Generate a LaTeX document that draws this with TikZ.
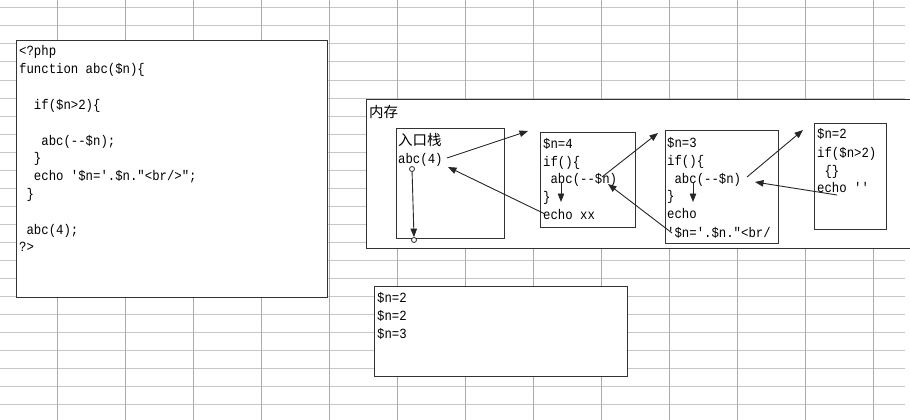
\documentclass[tikz,border=0pt]{standalone}
\usepackage{fontspec}
\setmonofont{Liberation Mono}[FakeStretch=0.88]
\newfontfamily\cjk{Noto Sans CJK SC}
\usetikzlibrary{arrows.meta}
\begin{document}
\begin{tikzpicture}[x=1pt,y=-1pt,
  box/.style={draw=black!80, line width=1.3pt, fill=white, anchor=north west, inner sep=0pt},
  code/.style={anchor=base west, inner sep=0pt, font=\ttfamily\fontsize{14}{16}\selectfont, text=black},
  cn/.style={anchor=base west, inner sep=0pt, font=\cjk\fontsize{14.5}{16}\selectfont, text=black},
  link/.style={draw=black!85, line width=0.9pt, -{Triangle[length=8.5pt,width=6.5pt]}},
  hgrid/.style={draw=black!22, line width=1pt},
  vgrid/.style={draw=black!33, line width=1pt},
  dot/.style={circle, draw=black!85, fill=white, line width=0.8pt, inner sep=0pt, minimum size=5pt}]
\clip (0,0) rectangle (910,420);
\fill[white] (0,0) rectangle (910,420);
% spreadsheet grid
\foreach \gy in {8,26,...,404} \draw[hgrid] (0,\gy) -- (905,\gy);
\foreach \gx in {57,125,...,873} \draw[vgrid] (\gx,0) -- (\gx,420);

% code box
\node[box, minimum width=311pt, minimum height=257pt] (codebox) at (16,40) {};
\node[code] (c1) at (19,56) {<?php};
\node[code] (c2) at (19,73.8) {function abc(\$n)\{};
\node[code] (c3) at (19,109.4) {\ \ if(\$n>2)\{};
\node[code] (c4) at (19,145) {\ \ \ abc(--\$n);};
\node[code] (c5) at (19,162.8) {\ \ \}};
\node[code] (c6) at (19,180.6) {\ \ echo '\$n='.\$n."<br/>";};
\node[code] (c7) at (19,198.4) {\ \}};
\node[code] (c8) at (19,234) {\ abc(4);};
\node[code] (c9) at (19,251.8) {?>};

% memory box
\node[box, minimum width=560pt, minimum height=149pt] (mem) at (366,99) {};
\node[cn] (memlabel) at (369,117) {内存};

% entry stack
\node[box, minimum width=108pt, minimum height=110pt] (stack) at (396,128) {};
\node[cn] (stacklabel) at (398,145) {入口栈};
\node[code] (s1) at (398,163) {abc(4)};
\node[dot] (sd1) at (412,169) {};
\node[dot] (sd2) at (414,240) {};
\draw[link] (sd1) -- (sd2.north);

% frame n=4
\node[box, minimum width=95pt, minimum height=95pt] (f4) at (540,132) {};
\node[code] (f4a) at (543,148) {\$n=4};
\node[code] (f4b) at (543,166) {if()\{};
\node[code] (f4c) at (543,183.5) {\ abc(--\$n)};
\node[code] (f4d) at (543,201) {\}};
\node[code] (f4e) at (543,219) {echo xx};

% frame n=3
\node[box, minimum width=113pt, minimum height=113pt] (f3) at (665,130) {};
\node[code] (f3a) at (667,147) {\$n=3};
\node[code] (f3b) at (667,165) {if()\{};
\node[code] (f3c) at (667,183) {\ abc(--\$n)};
\node[code] (f3d) at (667,200) {\}};
\node[code] (f3e) at (667,218) {echo};
\node[code] (f3f) at (667,237) {'\$n='.\$n."<br/};

% frame n=2
\node[box, minimum width=72pt, minimum height=106pt] (f2) at (814,123) {};
\node[code] (f2a) at (817,138) {\$n=2};
\node[code] (f2b) at (817,157) {if(\$n>2)};
\node[code] (f2c) at (817,175) {\ \{\}};
\node[code] (f2d) at (817,192) {echo ''};

% output box
\node[box, minimum width=253pt, minimum height=90pt] (out) at (374,286) {};
\node[code] (o1) at (377,302) {\$n=2};
\node[code] (o2) at (377,320) {\$n=2};
\node[code] (o3) at (377,338) {\$n=3};

% connector end points
\coordinate (p1s) at (447,158);
\coordinate (p1e) at (528,131);
\coordinate (p2s) at (545,214);
\coordinate (p2e) at (448,167);
\coordinate (p3s) at (602,177);
\coordinate (p3e) at (658,133);
\coordinate (p4s) at (672,233);
\coordinate (p4e) at (608,184);
\coordinate (p5s) at (747,177);
\coordinate (p5e) at (803,130);
\coordinate (p6s) at (837,195);
\coordinate (p6e) at (755,182);
\coordinate (d4s) at (561,183);
\coordinate (d4e) at (561,202);
\coordinate (d3s) at (693,182);
\coordinate (d3e) at (693,202);

\draw[link] (p1s) -- (p1e);
\draw[link] (p2s) -- (p2e);
\draw[link] (p3s) -- (p3e);
\draw[link] (p4s) -- (p4e);
\draw[link] (p5s) -- (p5e);
\draw[link] (p6s) -- (p6e);
\draw[link] (d4s) -- (d4e);
\draw[link] (d3s) -- (d3e);
\end{tikzpicture}
\end{document}
